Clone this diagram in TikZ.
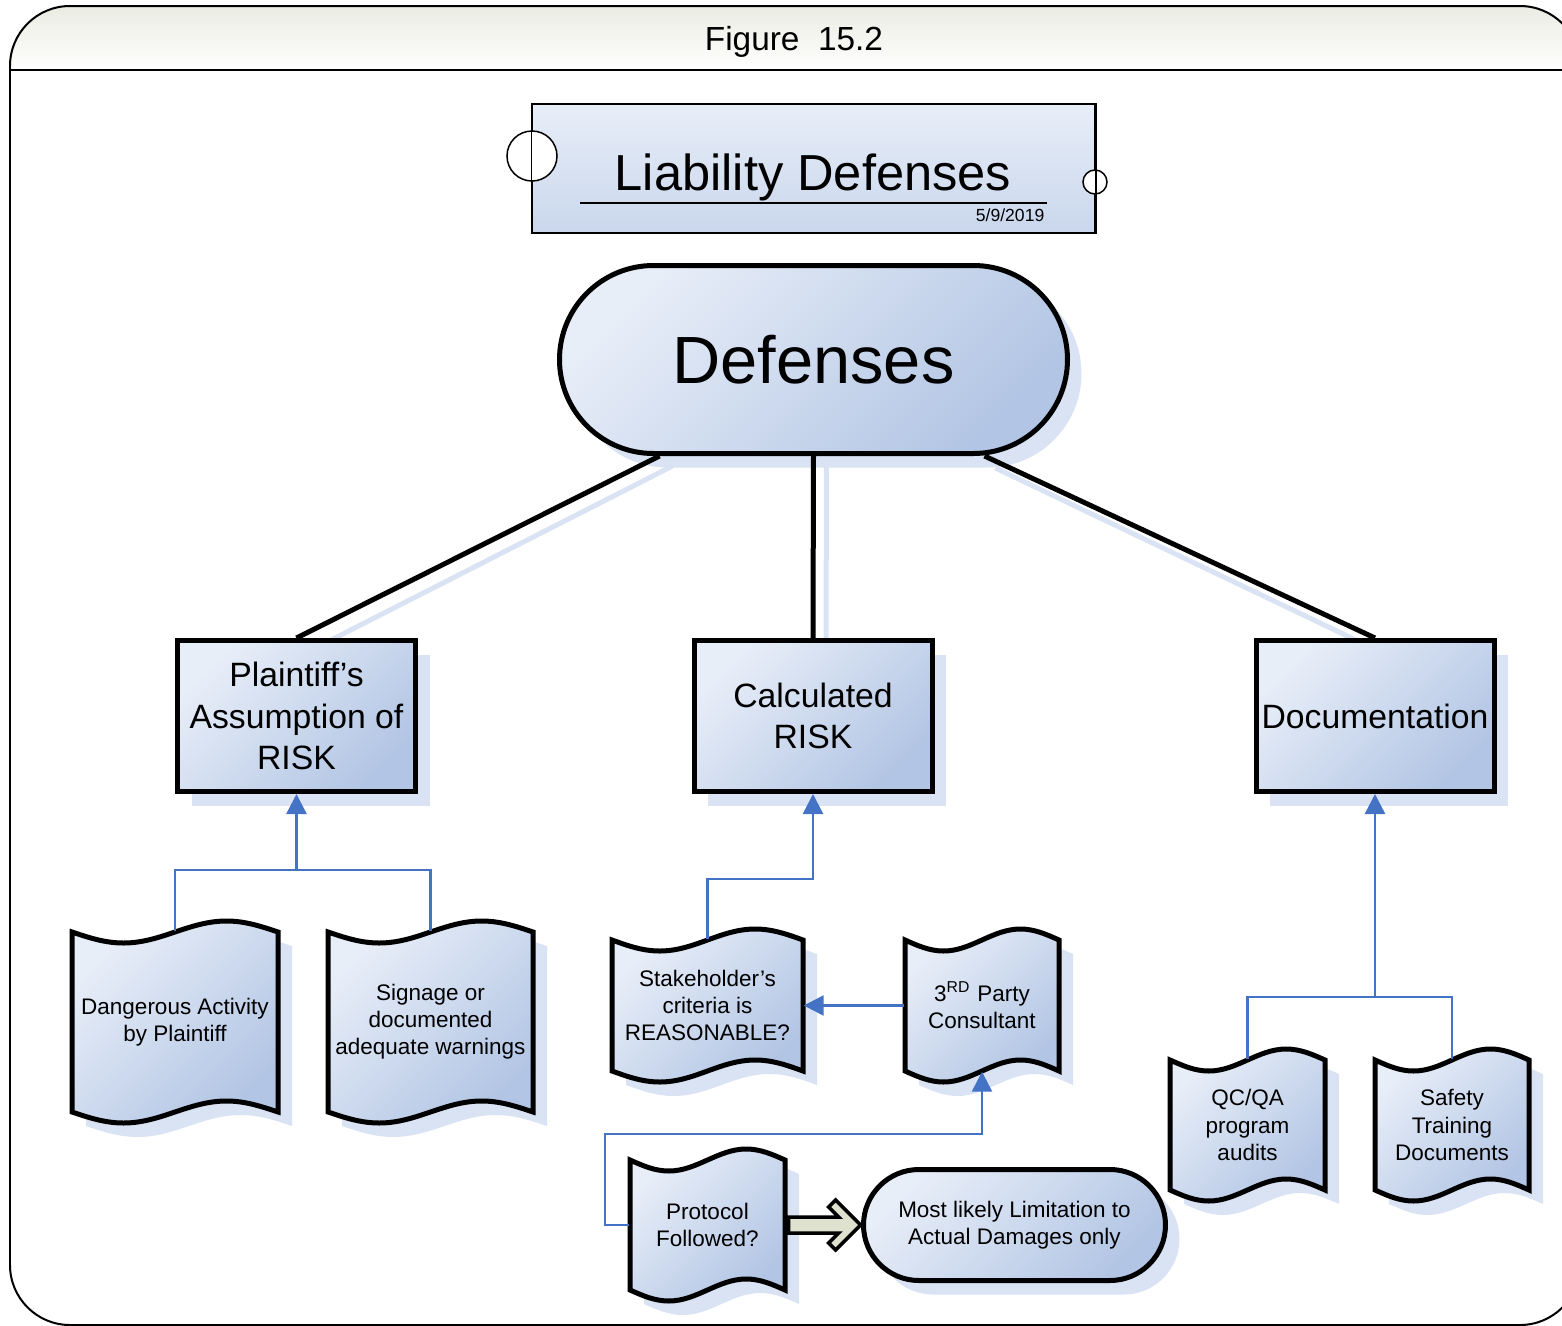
\documentclass[tikz,border=0pt]{standalone}
\usepackage{fontspec}
\setmainfont{Liberation Sans}
\usepackage{tikz}
\usetikzlibrary{shapes.misc,shadows,arrows.meta,calc}

\definecolor{boxlight}{RGB}{232,238,248}
\definecolor{boxdark}{RGB}{178,197,228}
\definecolor{shadowblue}{RGB}{218,227,243}
\definecolor{linkblue}{RGB}{68,114,196}
\definecolor{headgray}{RGB}{234,236,226}
\definecolor{arrowfill}{RGB}{222,225,205}

\pgfdeclarelayer{background}
\pgfsetlayers{background,main}

% tape shaped document: left, right, top, bottom
\newcommand{\wavepath}[4]{(#1,#3) sin ({(3*#1+#2)/4},#3+11) cos ({(#1+#2)/2},#3) sin ({(#1+3*#2)/4},#3-11) cos (#2,#3) -- (#2,#4) sin ({(#1+3*#2)/4},#4-11) cos ({(#1+#2)/2},#4) sin ({(3*#1+#2)/4},#4+11) cos (#1,#4) -- cycle}
\newcommand{\tapedoc}[6]{%
	\fill[shadowblue,shift={(14,14)}] \wavepath{#2}{#3}{#4}{#5};
	\draw[docline] \wavepath{#2}{#3}{#4}{#5};
	\node[doctext,minimum width={(#3-#2)*0.1mm},minimum height={(#5-#4)*0.1mm}] (#1) at ({(#2+#3)/2},{(#4+#5)/2}) {#6};
}

\begin{document}
\begin{tikzpicture}[x=0.1mm,y=-0.1mm,
	boxshade/.style={top color=boxlight,bottom color=boxdark,shading angle=45},
	boxshadow/.style={drop shadow={shadow xshift=1.4mm,shadow yshift=-1.4mm,fill=shadowblue,opacity=1}},
	bigbox/.style={rectangle,draw,line width=0.5mm,boxshade,boxshadow,inner sep=0pt,minimum width=23.8mm,minimum height=15.1mm,align=center,font=\fontsize{9.6}{11.7}\selectfont},
	defbox/.style={rounded rectangle,draw,line width=0.5mm,boxshade,boxshadow,inner sep=0pt,minimum width=50.8mm,minimum height=18.8mm,font=\fontsize{19}{22}\selectfont},
	limitbox/.style={rounded rectangle,draw,line width=0.5mm,boxshade,boxshadow,inner sep=0pt,minimum width=30.2mm,minimum height=11.1mm,align=center,font=\fontsize{6.4}{7.7}\selectfont},
	titlebox/.style={rectangle,draw,line width=0.15mm,top color=boxlight,bottom color=boxdark!70!white,inner sep=0pt,minimum width=56.3mm,minimum height=12.9mm},
	docline/.style={line width=0.5mm,boxshade},
	doctext/.style={inner sep=0pt,align=center,font=\fontsize{6.4}{7.7}\selectfont},
	trunk/.style={line width=0.5mm},
	trunkshadow/.style={line width=0.5mm,draw=shadowblue},
	link/.style={draw=linkblue,line width=0.25mm},
	linkarrow/.style={link,-{Triangle[width=2mm,length=2mm]}},
	fatarrow/.style={draw,line width=0.35mm,fill=arrowfill,line join=miter}]
	\useasboundingbox (0,0) rectangle (1562,1326);
	% frame and header
	\shade[top color=headgray,bottom color=white] (10,70) -- (10,66) arc[start angle=180,end angle=270,radius=60] -- (1520,6) arc[start angle=270,end angle=360,radius=60] -- (1580,70) -- cycle;
	\draw[line width=0.2mm,rounded corners=6mm] (10,6) rectangle (1580,1325);
	\draw[line width=0.2mm] (10,70) -- (1580,70);
	\node[anchor=base,font=\fontsize{9.5}{11}\selectfont] (fig) at (794,50) {Figure\ \ 15.2};
	% title block
	\node[titlebox] (ttlbox) at (813.5,168.5) {};
	\draw[fill=white,line width=0.15mm] (532,156) circle[radius=2.5mm];
	\draw[fill=white,line width=0.15mm] (1095,182) circle[radius=1.2mm];
	\draw[line width=0.15mm] (ttlbox.north west) -- (ttlbox.south west);
	\draw[line width=0.15mm] (ttlbox.north east) -- (ttlbox.south east);
	\node[anchor=base,font=\fontsize{14.4}{17}\selectfont] (ttl) at (813,190) {Liability Defenses};
	\draw[line width=0.2mm] (580,203) -- (1047,203);
	\node[anchor=base east,inner sep=0pt,font=\fontsize{5}{6}\selectfont] (date) at (1045,221) {5/9/2019};
	% main tree
	\node[defbox] (def) at (813.5,359.5) {Defenses};
	\node[bigbox] (plain) at (296.5,716) {Plaintiff’s\\Assumption of\\RISK};
	\node[bigbox] (calcrisk) at (813,716) {Calculated\\RISK};
	\node[bigbox] (docu) at (1375,716) {Documentation};
	\begin{pgfonlayer}{background}
	\draw[trunkshadow] ($(def.south west)+(19,10)$) -- ($(plain.north)+(13,13)$);
	\draw[trunkshadow] ($(def.south)+(13,10)$) -- ($(calcrisk.north)+(13,13)$);
	\draw[trunkshadow] ($(def.south east)+(22,12)$) -- ($(docu.north)+(10,16)$);
	\end{pgfonlayer}
	\draw[trunk] ($(def.south west)+(6,0)$) -- (plain.north);
	\draw[trunk] (def.south) -- (calcrisk.north);
	\draw[trunk] ($(def.south east)+(11,0)$) -- (docu.north);
	% documents
	\tapedoc{dang}{72}{278}{932}{1112}{Dangerous Activity\\by Plaintiff}
	\tapedoc{sign}{328}{533}{932}{1112}{Signage or\\documented\\adequate warnings}
	\tapedoc{stake}{612}{803}{940}{1071}{Stakeholder’s\\criteria is\\REASONABLE?}
	\tapedoc{third}{905}{1059}{940}{1071}{3\textsuperscript{RD} Party\\Consultant}
	\tapedoc{proto}{630}{785}{1160}{1290}{Protocol\\Followed?}
	\tapedoc{qc}{1170}{1325}{1060}{1190}{QC/QA\\program\\audits}
	\tapedoc{safety}{1375}{1529}{1060}{1190}{Safety\\Training\\Documents}
	\node[limitbox] (limit) at (1014.5,1225) {Most likely Limitation to\\Actual Damages only};
	% links
	\coordinate (jp) at (296.5,870);
	\coordinate (jc) at (813,879);
	\coordinate (jq) at (605,1134);
	\coordinate (jd) at (1375,997);
	\draw[link] (dang.north) |- (jp) -| (sign.north);
	\draw[linkarrow] (jp) -- (plain.south);
	\draw[linkarrow] (stake.north) |- (jc) -- (calcrisk.south);
	\draw[linkarrow] (third.west) -- (stake.east);
	\draw[linkarrow] (proto.west) -| (jq) -| (third.south);
	\draw[link] (qc.north) |- (jd) -| (safety.north);
	\draw[linkarrow] (jd) -- (docu.south);
	\draw[fatarrow] ($(proto.east)+(3,-8)$) -- ++(50,0) -- ++(-10,-10) -- ++(7,-7) -- ++(25,25) -- ++(-25,25) -- ++(-7,-7) -- ++(10,-10) -- ++(-50,0) -- cycle;
\end{tikzpicture}
\end{document}
